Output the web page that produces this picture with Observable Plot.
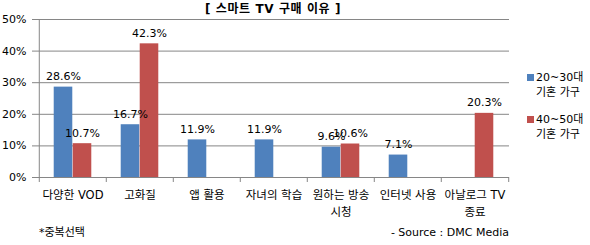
<!DOCTYPE html>
<html><head><meta charset="utf-8">
<script src="https://cdn.jsdelivr.net/npm/d3@7"></script>
<script src="https://cdn.jsdelivr.net/npm/@observablehq/plot@0.6"></script>
<style>
body{margin:0;background:#fff;}
#wrap{position:relative;width:590px;height:245px;font-family:"DejaVu Sans","Noto Sans CJK KR",sans-serif;color:#000;}
.abs{position:absolute;font-size:11px;line-height:15px;white-space:nowrap;}
.sw{display:inline-block;width:7px;height:7px;margin-right:2px;vertical-align:0px;}
</style></head>
<body><div id="wrap"></div>
<script>
const categories = ["다양한 VOD","고화질","앱 활용","자녀의 학습","원하는 방송\n시청","인터넷 사용","아날로그 TV\n종료"];
const young = [28.6,16.7,11.9,11.9,9.6,7.1,null];
const old = [10.7,42.3,null,null,10.6,null,20.3];
const seriesNames = ["20~30대\n기혼 가구","40~50대\n기혼 가구"];
const yTicks = [0,10,20,30,40,50];
const title = "[ 스마트 TV 구매 이유 ]";
const note = "*중복선택";
const source = "- Source : DMC Media";

const colors = ["#4F81BD","#C0504D"];
const W = 590, H = 245, mL = 37, mR = 81, mT = 19, mB = 68;
const step = (W - mL - mR) / categories.length;
const barW = 19;
const table = categories.map((c,i)=>({c, young: young[i], old: old[i]}));
const yRows = table.filter(d=>d.young!=null);
const oRows = table.filter(d=>d.old!=null);
const fmt = v => v.toFixed(1) + "%";

const chart = Plot.plot({
  width: W, height: H,
  marginLeft: mL, marginRight: mR, marginTop: mT, marginBottom: mB,
  style: {fontFamily: '"DejaVu Sans","Noto Sans CJK KR",sans-serif', fontSize: "11px", color: "#000", background: "#fff"},
  x: {domain: categories, padding: 0, axis: null, label: null},
  y: {domain: [0,50], axis: null, label: null},
  marks: [
    Plot.gridY(yTicks, {stroke: "#868686", strokeOpacity: 1}),
    Plot.axisY(yTicks, {tickFormat: d => d + "%", tickSize: 5, tickPadding: 6, stroke: "#868686", fill: "#000", fontSize: 11, label: null}),
    Plot.ruleX([categories[0]], {x: d=>d, dx: -step/2, y1: 0, y2: 50, stroke: "#868686"}),
    Plot.ruleX(categories, {x: d=>d, dx: -step/2, y1: 0, y2: 0, insetBottom: -5, stroke: "#868686"}),
    Plot.ruleX([categories[categories.length-1]], {x: d=>d, dx: step/2, y1: 0, y2: 0, insetBottom: -5, stroke: "#868686"}),
    Plot.barY(yRows, {x: "c", y: "young", fill: colors[0], insetLeft: step/2 - barW, insetRight: step/2}),
    Plot.barY(oRows, {x: "c", y: "old", fill: colors[1], insetLeft: step/2, insetRight: step/2 - barW}),
    Plot.text(yRows, {x: "c", y: "young", text: d => fmt(d.young), dx: -barW/2, dy: -7, lineAnchor: "bottom", fill: "#000", fontSize: 11}),
    Plot.text(oRows, {x: "c", y: "old", text: d => fmt(d.old), dx: barW/2, dy: -7, lineAnchor: "bottom", fill: "#000", fontSize: 11}),
    Plot.axisX(categories, {tickSize: 0, tickPadding: 10, lineHeight: 1.45, fill: "#000", fontSize: 11.5, label: null})
  ]
});
const wrap = document.getElementById("wrap");
wrap.appendChild(chart);
chart.style.position = "absolute"; chart.style.left = "0"; chart.style.top = "0";

function addDiv(html, css){ const d=document.createElement("div"); d.className="abs"; d.innerHTML=html; Object.assign(d.style, css); wrap.appendChild(d); return d; }
addDiv(title, {left: "0", width: (mL + (W-mL-mR)/2)*2 + "px", textAlign: "center", top: "2px", fontWeight: "bold", fontSize: "12px", letterSpacing: "0.6px"});
seriesNames.forEach((s,i)=>{
  const [a,b] = s.split("\n");
  addDiv(`<span class="sw" style="background:${colors[i]}"></span>${a}<br><span style="margin-left:9px">${b}</span>`, {left: "527px", top: (70 + i*42) + "px"});
});
addDiv(note, {left: "39px", top: "225px"});
addDiv(source, {right: (W - 509) + "px", top: "225px"});
</script></body></html>
